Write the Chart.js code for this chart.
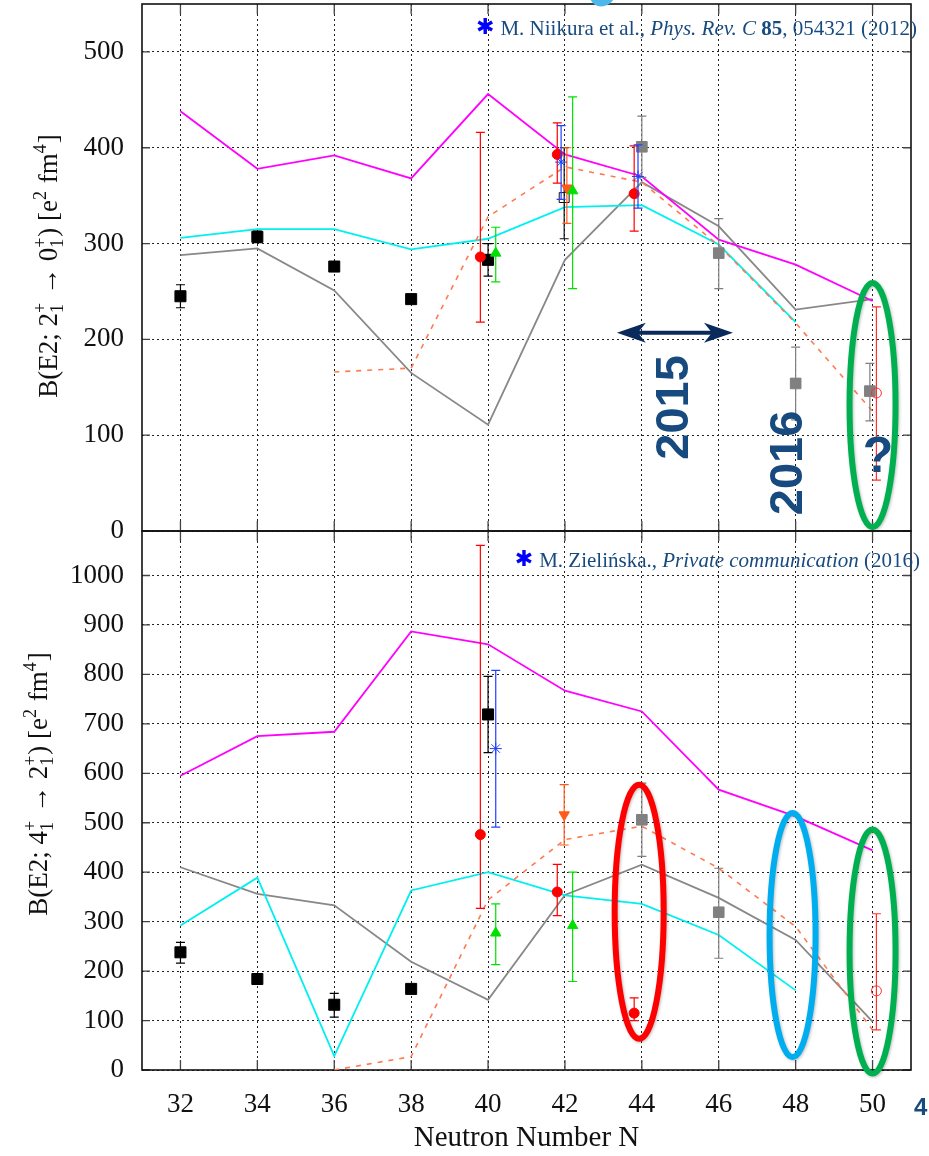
<!DOCTYPE html>
<html>
<head>
<meta charset="utf-8">
<title>B(E2) systematics</title>
<script src="https://cdn.jsdelivr.net/npm/chart.js@4.4.1/dist/chart.umd.min.js"></script>
<style>
  body { margin: 0; background: #fff; width: 929px; height: 1156px; overflow: hidden; position: relative; }
  canvas { position: absolute; left: 0; }
  #topChart { top: 0; }
  #botChart { top: 526px; }
</style>
</head>
<body>
<canvas id="topChart" width="929" height="545" style="width:929px;height:545px"></canvas>
<canvas id="botChart" width="929" height="630" style="width:929px;height:630px"></canvas>
<script>
// neutron numbers (x axis)
var N = [32, 34, 36, 38, 40, 42, 44, 46, 48, 50];

// ---- upper panel: B(E2; 2+ -> 0+) ----
var topTicks = [0, 100, 200, 300, 400, 500];
var topMagenta = [438, 378, 392, 368, 456, 393, 370, 304, 278, 240];
var topCyan    = [306, 315, 315, 294, 305, 338, 340, 299, 218, null];
var topGray    = [288, 295, 251, 165, 111, 283, 364, 318, 231, 242];
var topOrange  = [null, null, 166, 170, 328, 380, 364, 298, 217, 125];

var topBlackN = [32, 34, 36, 38, 40];
var topBlackV = [245, 307, 276, 242, 283];
var topBlackLo = [233, 301, null, null, 266];
var topBlackHi = [257, 313, null, null, 300];

var topRedN = [39.8, 41.8, 43.8];
var topRedV = [286, 393, 352];
var topRedLo = [218, 363, 313];
var topRedHi = [416, 426, 402];

var topGreenN = [40.2, 42.2];
var topGreenV = [290, 355];
var topGreenLo = [260, 253];
var topGreenHi = [317, 453];

var topOrangeN = [42.05];
var topOrangeV = [358];
var topOrangeLo = [321];
var topOrangeHi = [400];

var topBlueN = [41.9, 43.9];
var topBlueV = [385, 370];
var topBlueLo = [346, 337];
var topBlueHi = [423, 403];

var topOpenSqN = [41.98];
var topOpenSqV = [348];
var topOpenSqLo = [305];
var topOpenSqHi = [400];

var topGraySqN = [44, 46, 48, 49.93];
var topGraySqV = [401, 290, 154, 146];
var topGraySqLo = [369, 253, 116, 115];
var topGraySqHi = [433, 326, 192, 175];

var topOpenCircN = [50.1];
var topOpenCircV = [144];
var topOpenCircLo = [53];
var topOpenCircHi = [234];

// ---- lower panel: B(E2; 4+ -> 2+) ----
var botTicks = [0, 100, 200, 300, 400, 500, 600, 700, 800, 900, 1000];
var botMagenta = [595, 675, 684, 887, 861, 767, 725, 567, 513, 444];
var botCyan    = [292, 389, 28, 363, 400, 353, 336, 273, 161, null];
var botGray    = [410, 356, 333, 219, 142, 354, 415, 348, 263, 98];
var botOrange  = [null, null, 0, 27, 344, 466, 493, 408, 290, 81];

var botBlackN = [32, 34, 36, 38, 40];
var botBlackV = [238, 184, 132, 164, 719];
var botBlackLo = [216, null, 107, null, 642];
var botBlackHi = [258, null, 155, null, 796];

var botRedN = [39.8, 41.8, 43.8];
var botRedV = [476, 360, 115];
var botRedLo = [327, 312, 100];
var botRedHi = [1061, 416, 146];

var botGreenN = [40.2, 42.2];
var botGreenV = [277, 292];
var botGreenLo = [213, 179];
var botGreenHi = [336, 400];

var botOrangeN = [41.98];
var botOrangeV = [516];
var botOrangeLo = [455];
var botOrangeHi = [577];

var botBlueN = [40.2];
var botBlueV = [650];
var botBlueLo = [491];
var botBlueHi = [808];

var botGraySqN = [44, 46];
var botGraySqV = [506, 319];
var botGraySqLo = [432, 226];
var botGraySqHi = [580, 408];

var botOpenCircN = [50.1];
var botOpenCircV = [160];
var botOpenCircLo = [81];
var botOpenCircHi = [316];

var SERIF = '"Liberation Serif", "Times New Roman", serif';
var NAVY = '#174a7e';

function pts(xs, ys) {
  return xs.map(function (x, i) { return { x: x, y: ys[i] }; })
           .filter(function (p) { return p.y !== null; });
}

function lineSet(vals, color, dashed) {
  return {
    type: 'line', data: pts(N, vals), borderColor: color,
    borderWidth: dashed ? 1.6 : 1.8, borderDash: dashed ? [5, 6] : [],
    pointRadius: 0, fill: false, tension: 0, order: 10
  };
}

function markSet(xs, vals, lo, hi, style, color, opts) {
  var ds = {
    type: 'scatter', data: pts(xs, vals), showLine: false,
    pointStyle: style, pointRadius: 6, pointBorderWidth: 1,
    backgroundColor: color, borderColor: color,
    errLo: lo, errHi: hi, errColor: color, order: 1
  };
  for (var k in opts) ds[k] = opts[k];
  return ds;
}

// vertical error bars drawn just under each marker set
var errorBars = {
  id: 'errorBars',
  beforeDatasetDraw: function (chart, args) {
    var ds = chart.data.datasets[args.index];
    if (!ds.errLo) return;
    var ctx = chart.ctx, xs = chart.scales.x, ys = chart.scales.y;
    ctx.save();
    ctx.strokeStyle = ds.errColor;
    ctx.lineWidth = 1.2;
    ds.data.forEach(function (p, i) {
      if (ds.errLo[i] == null) return;
      var x = xs.getPixelForValue(p.x);
      var y1 = ys.getPixelForValue(ds.errLo[i]);
      var y2 = ys.getPixelForValue(ds.errHi[i]);
      ctx.beginPath();
      ctx.moveTo(x, y1); ctx.lineTo(x, y2);
      ctx.moveTo(x - 4.5, y1); ctx.lineTo(x + 4.5, y1);
      ctx.moveTo(x - 4.5, y2); ctx.lineTo(x + 4.5, y2);
      ctx.stroke();
    });
    ctx.restore();
  }
};

// box round the plot with inward tick marks
var frame = {
  id: 'frame',
  beforeDatasetsDraw: function (chart) {
    var a = chart.chartArea, ctx = chart.ctx, xs = chart.scales.x, ys = chart.scales.y;
    ctx.save();
    ctx.strokeStyle = '#444';
    ctx.lineWidth = 1.3;
    ctx.beginPath();
    ys.ticks.forEach(function (t) {
      var y = ys.getPixelForValue(t.value);
      ctx.moveTo(a.left, y); ctx.lineTo(a.left + 8, y);
      ctx.moveTo(a.right, y); ctx.lineTo(a.right - 8, y);
    });
    xs.ticks.forEach(function (t) {
      var x = xs.getPixelForValue(t.value);
      ctx.moveTo(x, a.bottom); ctx.lineTo(x, a.bottom - 10);
      ctx.moveTo(x, a.top); ctx.lineTo(x, a.top + 10);
    });
    ctx.stroke();
    ctx.strokeStyle = '#111';
    ctx.lineWidth = 1.6;
    ctx.strokeRect(a.left, a.top, a.right - a.left, a.bottom - a.top);
    ctx.restore();
  }
};

// rotated axis title with stacked sub/superscripts
function yTitle(ctx, cx, cy, parts, size) {
  var big = size + 'px ' + SERIF, small = Math.round(size * 0.66) + 'px ' + SERIF;
  var total = 0;
  parts.forEach(function (p) {
    if (p.t !== undefined) { ctx.font = big; p.w = ctx.measureText(p.t).width; }
    else {
      ctx.font = small;
      p.w = Math.max(p.sup ? ctx.measureText(p.sup).width : 0, p.sub ? ctx.measureText(p.sub).width : 0) + 1;
    }
    total += p.w;
  });
  ctx.save();
  ctx.translate(cx, cy);
  ctx.rotate(-Math.PI / 2);
  ctx.fillStyle = '#111';
  ctx.textBaseline = 'alphabetic';
  ctx.textAlign = 'left';
  var x = -total / 2, base = size * 0.33;
  parts.forEach(function (p) {
    if (p.t !== undefined) { ctx.font = big; ctx.fillText(p.t, x, base); }
    else {
      ctx.font = small;
      if (p.sup) ctx.fillText(p.sup, x, base - size * 0.42);
      if (p.sub) ctx.fillText(p.sub, x, base + size * 0.22);
    }
    x += p.w;
  });
  ctx.restore();
}

// citation line: blue asterisk + mixed-style serif text, right aligned
function citation(ctx, parts, rightX, baseY, size) {
  var total = 0;
  parts.forEach(function (p) {
    ctx.font = (p.s || '') + ' ' + size + 'px ' + SERIF;
    p.w = ctx.measureText(p.t).width;
    total += p.w;
  });
  ctx.save();
  ctx.textBaseline = 'alphabetic';
  ctx.textAlign = 'left';
  ctx.fillStyle = NAVY;
  var x = rightX - total;
  var start = x;
  parts.forEach(function (p) {
    ctx.font = (p.s || '') + ' ' + size + 'px ' + SERIF;
    ctx.fillText(p.t, x, baseY);
    x += p.w;
  });
  ctx.fillStyle = '#0000ff';
  ctx.font = 'bold 22px "DejaVu Sans"';
  ctx.textAlign = 'right';
  ctx.fillText('\u2731', start - 6, baseY - 1);
  ctx.restore();
}

function ring(ctx, cx, cy, rx, ry, color) {
  ctx.save();
  ctx.beginPath();
  ctx.ellipse(cx, cy, rx, ry, 0, 0, 2 * Math.PI);
  ctx.lineWidth = 6;
  ctx.strokeStyle = color;
  ctx.shadowColor = 'rgba(0,0,0,0.25)';
  ctx.shadowBlur = 3;
  ctx.shadowOffsetX = 1;
  ctx.shadowOffsetY = 1;
  ctx.stroke();
  ctx.restore();
}

function vText(ctx, txt, cx, cy, font, color) {
  ctx.save();
  ctx.translate(cx, cy);
  ctx.rotate(-Math.PI / 2);
  ctx.font = font;
  ctx.fillStyle = color;
  ctx.textAlign = 'center';
  ctx.textBaseline = 'middle';
  ctx.fillText(txt, 0, 0);
  ctx.restore();
}

function doubleArrow(ctx, x1, x2, y, color) {
  ctx.save();
  ctx.strokeStyle = color;
  ctx.fillStyle = color;
  ctx.lineWidth = 4;
  ctx.beginPath();
  ctx.moveTo(x1 + 14, y); ctx.lineTo(x2 - 14, y);
  ctx.stroke();
  [[x1, 1], [x2, -1]].forEach(function (h) {
    var tx = h[0], d = h[1];
    ctx.beginPath();
    ctx.moveTo(tx, y);
    ctx.lineTo(tx + d * 29, y - 10);
    ctx.lineTo(tx + d * 21, y);
    ctx.lineTo(tx + d * 29, y + 10);
    ctx.closePath();
    ctx.fill();
  });
  ctx.restore();
}

// keep the chart area exactly where the frame belongs
function noPad(s) {
  s.paddingTop = 0; s.paddingBottom = 0; s.paddingLeft = 0; s.paddingRight = 0;
}

function xAxis(showLabels, height) {
  return {
    type: 'linear', min: 31, max: 51,
    afterBuildTicks: function (s) { s.ticks = N.map(function (v) { return { value: v }; }); },
    afterFit: function (s) { s.height = height; noPad(s); },
    grid: { color: '#222', lineWidth: 1, drawTicks: false },
    border: { display: false, dash: [2, 3] },
    ticks: { display: showLabels, padding: 19, color: '#111', font: { family: SERIF, size: 27 },
             callback: function (v) { return String(v); } },
    title: showLabels ? { display: true, text: 'Neutron Number N', color: '#111',
                          font: { family: SERIF, size: 29 }, padding: { top: 0, bottom: 0 } } : { display: false }
  };
}

function yAxis(max, ticks) {
  return {
    min: 0, max: max,
    afterBuildTicks: function (s) { s.ticks = ticks.map(function (v) { return { value: v }; }); },
    afterFit: function (s) { s.width = 142; noPad(s); },
    grid: { color: '#222', lineWidth: 1, drawTicks: false },
    border: { display: false, dash: [2, 3] },
    ticks: { padding: 18, color: '#111', font: { family: SERIF, size: 27 },
             callback: function (v) { return String(v); } }
  };
}

function baseOptions(yMax, yTicks, showX, xHeight, padTop) {
  return {
    responsive: false,
    animation: false,
    layout: { autoPadding: false, padding: { top: padTop, right: 18, left: 0, bottom: 0 } },
    plugins: { legend: { display: false }, tooltip: { enabled: false } },
    scales: { x: xAxis(showX, xHeight), y: yAxis(yMax, yTicks) }
  };
}

// ---- upper chart ----
var topAnnot = {
  id: 'topAnnot',
  afterDraw: function (chart) {
    var ctx = chart.ctx, xs = chart.scales.x, ys = chart.scales.y;
    yTitle(ctx, 48, 266, [
      { t: 'B(E2; 2' }, { sup: '+', sub: '1' }, { t: ' \u2192 0' }, { sup: '+', sub: '1' },
      { t: ') [e' }, { sup: '2' }, { t: ' fm' }, { sup: '4' }, { t: ']' }
    ], 27);
    citation(ctx, [
      { t: 'M. Niikura et al., ' }, { t: 'Phys. Rev. C', s: 'italic' }, { t: ' ' },
      { t: '85', s: 'bold' }, { t: ', 054321 (2012)' }
    ], 917, 35, 21);
    doubleArrow(ctx, xs.getPixelForValue(43.35), xs.getPixelForValue(46.37), ys.getPixelForValue(207), '#0b2a5c');
    vText(ctx, '2015', xs.getPixelForValue(44.86), ys.getPixelForValue(129), 'bold 47px "Liberation Sans"', NAVY);
    vText(ctx, '2016', xs.getPixelForValue(47.83), ys.getPixelForValue(71), 'bold 47px "Liberation Sans"', NAVY);
    ctx.save();
    ctx.font = 'bold 50px "Liberation Sans"';
    ctx.fillStyle = NAVY;
    ctx.textAlign = 'center';
    ctx.textBaseline = 'middle';
    ctx.fillText('?', xs.getPixelForValue(50.14), ys.getPixelForValue(76));
    ctx.restore();
    ring(ctx, xs.getPixelForValue(50), ys.getPixelForValue(131.5), 23, 122, '#00b050');
    // light blue shape cut by the top edge
    ctx.save();
    ctx.fillStyle = '#4fb8ea';
    ctx.beginPath();
    ctx.ellipse(603, -8, 13, 15, 0.6, 0, 2 * Math.PI);
    ctx.fill();
    ctx.restore();
  }
};

new Chart(document.getElementById('topChart'), {
  type: 'scatter',
  data: {
    datasets: [
      markSet(topOpenCircN, topOpenCircV, topOpenCircLo, topOpenCircHi, 'circle', '#ff3030',
              { backgroundColor: 'rgba(0,0,0,0)', pointRadius: 5 }),
      markSet(topBlueN, topBlueV, topBlueLo, topBlueHi, 'star', '#2040ff', { pointRadius: 6 }),
      markSet(topRedN, topRedV, topRedLo, topRedHi, 'circle', '#ff0000', { pointRadius: 5 }),
      markSet(topGreenN, topGreenV, topGreenLo, topGreenHi, 'triangle', '#00e000', { pointRadius: 6 }),
      markSet(topOrangeN, topOrangeV, topOrangeLo, topOrangeHi, 'triangle', '#ff5a1a', { pointRadius: 6, rotation: 180 }),
      markSet(topOpenSqN, topOpenSqV, topOpenSqLo, topOpenSqHi, 'rect', '#111',
              { backgroundColor: 'rgba(0,0,0,0)', pointRadius: 7 }),
      markSet(topGraySqN, topGraySqV, topGraySqLo, topGraySqHi, 'rect', '#808080', { pointRadius: 7.5 }),
      markSet(topBlackN, topBlackV, topBlackLo, topBlackHi, 'rect', '#000', { pointRadius: 7.8 }),
      lineSet(topOrange, '#ff7a50', true),
      lineSet(topMagenta, '#ff00ff'),
      lineSet(topCyan, '#00f0f0'),
      lineSet(topGray, '#888888')
    ]
  },
  options: baseOptions(550, topTicks, false, 14, 4),
  plugins: [frame, errorBars, topAnnot]
});

// ---- lower chart ----
var botAnnot = {
  id: 'botAnnot',
  afterDraw: function (chart) {
    var ctx = chart.ctx, xs = chart.scales.x, ys = chart.scales.y;
    yTitle(ctx, 38, 258, [
      { t: 'B(E2; 4' }, { sup: '+', sub: '1' }, { t: ' \u2192 2' }, { sup: '+', sub: '1' },
      { t: ') [e' }, { sup: '2' }, { t: ' fm' }, { sup: '4' }, { t: ']' }
    ], 27);
    citation(ctx, [
      { t: 'M. Zieli\u0144ska., ' }, { t: 'Private communication', s: 'italic' }, { t: ' (2016)' }
    ], 920, 41, 21);
    ring(ctx, xs.getPixelForValue(43.93), ys.getPixelForValue(320), 24.5, 127, '#ff0000');
    ring(ctx, xs.getPixelForValue(47.92), ys.getPixelForValue(273), 23, 122, '#00aeef');
    ring(ctx, xs.getPixelForValue(50), ys.getPixelForValue(239.5), 23, 122, '#00b050');
    ctx.save();
    ctx.font = 'bold 24px "Liberation Sans"';
    ctx.fillStyle = NAVY;
    ctx.textAlign = 'left';
    ctx.textBaseline = 'middle';
    ctx.fillText('4', 914, 582);
    ctx.restore();
  }
};

new Chart(document.getElementById('botChart'), {
  type: 'scatter',
  data: {
    datasets: [
      markSet(botOpenCircN, botOpenCircV, botOpenCircLo, botOpenCircHi, 'circle', '#ff3030',
              { backgroundColor: 'rgba(0,0,0,0)', pointRadius: 5 }),
      markSet(botBlueN, botBlueV, botBlueLo, botBlueHi, 'star', '#2040ff', { pointRadius: 6 }),
      markSet(botRedN, botRedV, botRedLo, botRedHi, 'circle', '#ff0000', { pointRadius: 5 }),
      markSet(botGreenN, botGreenV, botGreenLo, botGreenHi, 'triangle', '#00e000', { pointRadius: 6 }),
      markSet(botOrangeN, botOrangeV, botOrangeLo, botOrangeHi, 'triangle', '#ff5a1a', { pointRadius: 6, rotation: 180 }),
      markSet(botGraySqN, botGraySqV, botGraySqLo, botGraySqHi, 'rect', '#808080', { pointRadius: 7.5 }),
      markSet(botBlackN, botBlackV, botBlackLo, botBlackHi, 'rect', '#000', { pointRadius: 7.8 }),
      lineSet(botOrange, '#ff7a50', true),
      lineSet(botMagenta, '#ff00ff'),
      lineSet(botCyan, '#00f0f0'),
      lineSet(botGray, '#888888')
    ]
  },
  options: baseOptions(1090, botTicks, true, 86, 5),
  plugins: [frame, errorBars, botAnnot]
});
</script>
</body>
</html>
